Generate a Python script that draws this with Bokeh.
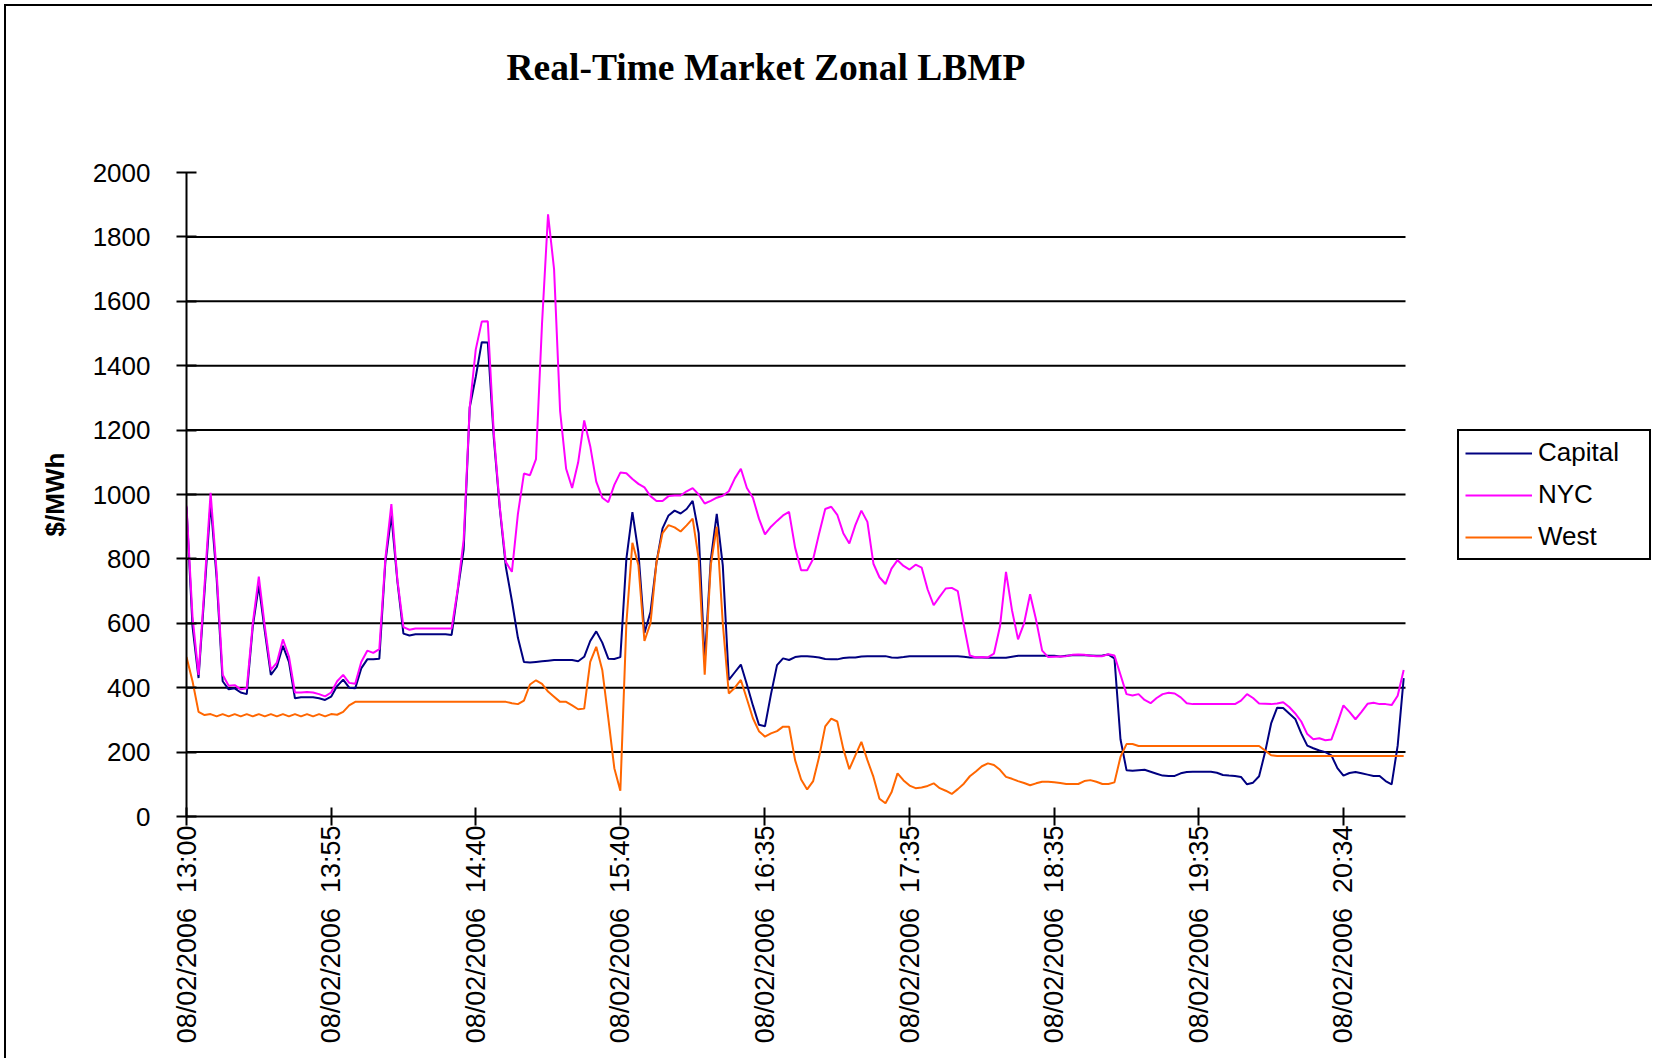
import math
from bokeh.plotting import figure
from bokeh.models import Range1d, FixedTicker, Legend, LegendItem, Title
from bokeh.embed import file_html
from bokeh.resources import INLINE

# ---------------- data ----------------
tick_labels = ["08/02/2006\u00a0\u00a013:00", "08/02/2006\u00a0\u00a013:55", "08/02/2006\u00a0\u00a014:40",
               "08/02/2006\u00a0\u00a015:40", "08/02/2006\u00a0\u00a016:35", "08/02/2006\u00a0\u00a017:35",
               "08/02/2006\u00a0\u00a018:35", "08/02/2006\u00a0\u00a019:35", "08/02/2006\u00a0\u00a020:34"]
label_step = 24  # categories between labelled ticks

y_ticks = [0, 200, 400, 600, 800, 1000, 1200, 1400, 1600, 1800, 2000]

capital = [
    960, 590, 430, 700, 975, 740, 420, 395, 398, 385,
    380, 590, 718, 575, 440, 465, 530, 480, 367, 370,
    370, 370, 367, 362, 372, 405, 425, 400, 398, 460,
    488, 488, 490, 790, 935, 730, 568, 562, 566, 566,
    566, 566, 566, 566, 564, 700, 830, 1270, 1365, 1473,
    1472, 1175, 955, 775, 670, 555, 480, 478, 480, 482,
    484, 486, 486, 486, 486, 482, 496, 545, 575, 540,
    490, 489, 495, 800, 945, 820, 570, 635, 790, 895,
    935, 950, 941, 955, 980, 880, 480, 796, 940, 780,
    424, 448, 472, 410, 345, 285, 280, 380, 470, 491,
    486, 495, 498, 498, 496, 494, 489, 488, 488, 492,
    494, 494, 497, 498, 498, 498, 498, 494, 493, 495,
    498, 498, 498, 498, 498, 498, 498, 498, 498, 496,
    494, 494, 494, 493, 493, 493, 493, 496, 499, 499,
    499, 499, 499, 499, 499, 497, 499, 501, 501, 501,
    500, 499, 500, 503, 491, 240, 144, 142, 144, 145,
    139, 133, 127, 126, 126, 134, 138, 139, 139, 139,
    139, 136, 129, 127, 126, 123, 100, 105, 125, 200,
    289, 338, 337, 320, 303, 258, 220, 212, 205, 200,
    190, 150, 127, 135, 138, 134, 130, 126, 126, 110,
    100, 220, 430,
]

nyc = [
    965, 620, 440, 720, 1005, 760, 440, 406, 408, 395,
    398, 600, 745, 590, 455, 478, 550, 497, 385, 385,
    387, 385, 380, 373, 385, 420, 440, 415, 412, 480,
    515, 508, 520, 800, 970, 735, 588, 580, 584, 584,
    584, 584, 584, 584, 584, 705, 860, 1270, 1450, 1537,
    1538, 1190, 960, 790, 760, 940, 1065, 1060, 1110, 1530,
    1870, 1700, 1260, 1080, 1020, 1100, 1230, 1150, 1040, 990,
    976, 1030, 1068, 1066, 1048, 1033, 1022, 995, 980, 980,
    995, 997, 997, 1010, 1020, 1000, 972, 980, 990, 996,
    1010, 1050, 1080, 1020, 990, 925, 876, 900, 918, 935,
    946, 835, 765, 765, 800, 880, 955, 962, 937, 880,
    848, 905, 950, 915, 785, 743, 722, 770, 796, 778,
    767, 782, 773, 705, 656, 683, 708, 710, 700, 595,
    500, 494, 495, 494, 506, 590, 760, 640, 550, 600,
    690, 610, 515, 495, 496, 497, 498, 502, 503, 502,
    499, 498, 498, 504, 500, 440, 380, 376, 380, 362,
    352, 368, 380, 384, 382, 370, 352, 349, 349, 349,
    349, 349, 349, 349, 349, 360, 380, 368, 351, 350,
    349, 351, 355, 340, 320, 295, 256, 240, 243, 237,
    239, 290, 345, 325, 302, 325, 350, 353, 349, 349,
    346, 375, 455,
]

west = [
    495, 420, 325, 315, 318, 311, 318, 311, 318, 311,
    318, 311, 318, 311, 318, 311, 318, 311, 318, 311,
    318, 311, 318, 311, 318, 316, 325, 345, 356, 356,
    356, 356, 356, 356, 356, 356, 356, 356, 356, 356,
    356, 356, 356, 356, 356, 356, 356, 356, 356, 356,
    356, 356, 356, 356, 352, 349, 360, 410, 423, 412,
    388, 372, 356, 356, 345, 333, 335, 480, 527, 455,
    305, 150, 80, 600, 850, 780, 545, 600, 790, 880,
    905, 898, 885, 904, 925, 800, 440, 780, 900, 600,
    382, 400, 424, 365, 305, 265, 248, 258, 265, 279,
    279, 175, 115, 84, 110, 186, 280, 304, 295, 210,
    147, 190, 232, 175, 123, 55, 41, 75, 134, 112,
    96, 88, 90, 95, 103, 88, 80, 70, 85, 102,
    125, 140, 156, 165, 160, 145, 123, 117, 110, 104,
    97, 103, 108, 108, 106, 104, 101, 101, 101, 110,
    113, 108, 101, 101, 106, 185, 225, 225, 219, 219,
    219, 219, 219, 219, 219, 219, 219, 219, 219, 219,
    219, 219, 219, 219, 219, 219, 219, 219, 219, 205,
    190, 188, 188, 188, 188, 188, 188, 188, 188, 188,
    188, 188, 188, 188, 188, 188, 188, 188, 188, 188,
    188, 188, 188,
]

series_names = ["Capital", "NYC", "West"]
series_colors = ["#000080", "#FF00FF", "#FF6600"]

# ---------------- layout numbers ----------------
n = len(nyc)
x = list(range(n))
x_data_end = n - 1 + 0.3
y_top = y_ticks[-1]

W, H = 1648, 1054
FL, FT = 180, 166          # frame left / top inside canvas
PLOT_W = 1219              # pixel width of the data area (x axis extent)
FW, FH = 1467, 644         # frame also hosts the legend on the right

p = figure(width=W, height=H, output_backend="svg", toolbar_location=None,
           x_range=Range1d(0, x_data_end * FW / PLOT_W),
           y_range=Range1d(0, y_top),
           min_border_left=FL, min_border_right=W - FL - FW,
           min_border_top=FT, min_border_bottom=H - FT - FH)
p.styles = {"border-left": "2px solid black", "border-top": "2px solid black",
            "margin-left": "4px", "margin-top": "4px"}
p.outline_line_color = None
p.background_fill_color = "white"
p.border_fill_color = "white"

# empty spacer panel between the frame and the title
p.add_layout(Title(text=" ", text_font_size="20px", standoff=41), "above")

# title (outermost in the top panel)
p.title.text = "Real-Time Market Zonal LBMP"
p.title.align = "left"
p.title.offset = 320
p.title.text_font = "Liberation Serif"
p.title.text_font_style = "bold"
p.title.text_font_size = "37.5px"
p.title.text_color = "black"
p.title.standoff = 40

# x axis
xa = p.xaxis[0]
xa.bounds = (0, x_data_end)
xa.ticker = FixedTicker(ticks=[i * label_step for i in range(len(tick_labels))])
xa.major_label_overrides = {i * label_step: lab for i, lab in enumerate(tick_labels)}
xa.major_label_orientation = math.pi / 2
xa.major_label_text_font = "Liberation Sans"
xa.major_label_text_font_size = "27px"
xa.major_label_text_color = "black"
xa.major_label_standoff = 0
xa.major_tick_in = 9
xa.major_tick_out = 9
xa.major_tick_line_width = 2
xa.major_tick_line_color = "black"
xa.minor_tick_line_color = None
xa.axis_line_width = 2
xa.axis_line_color = "black"
p.xgrid.visible = False

# y axis
ya = p.yaxis[0]
ya.ticker = FixedTicker(ticks=y_ticks)
ya.major_label_text_font = "Liberation Sans"
ya.major_label_text_font_size = "26px"
ya.major_label_text_color = "black"
ya.major_label_standoff = 26
ya.major_tick_in = 10
ya.major_tick_out = 10
ya.major_tick_line_width = 2
ya.major_tick_line_color = "black"
ya.minor_tick_line_color = None
ya.axis_line_width = 2
ya.axis_line_color = "black"
ya.axis_label = "$/MWh"
ya.axis_label_text_font = "Liberation Sans"
ya.axis_label_text_font_style = "bold"
ya.axis_label_text_font_size = "26px"
ya.axis_label_text_color = "black"
ya.axis_label_standoff = 20
p.ygrid.visible = False

# horizontal gridlines, spanning only the data area (as in the original)
grid_vals = y_ticks[1:-1]
p.segment(x0=[0] * len(grid_vals), x1=[x_data_end] * len(grid_vals),
          y0=grid_vals, y1=grid_vals, line_color="black", line_width=2)

# series
renderers = []
for vals, color in zip([capital, nyc, west], series_colors):
    r = p.line(x, vals, line_color=color, line_width=2)
    renderers.append(r)

legend = Legend(items=[LegendItem(label=nm, renderers=[r]) for nm, r in zip(series_names, renderers)],
                location=(1271, 256),
                border_line_color="black", border_line_width=2, border_line_alpha=1.0,
                background_fill_color="white", background_fill_alpha=1.0,
                label_text_font="Liberation Sans", label_text_font_size="26px",
                label_text_color="black",
                glyph_width=67, glyph_height=30, label_height=30,
                spacing=11, padding=6, margin=0,
                label_standoff=6, label_width=105)
p.add_layout(legend, "center")

open("out.html", "w").write(file_html(p, INLINE))
